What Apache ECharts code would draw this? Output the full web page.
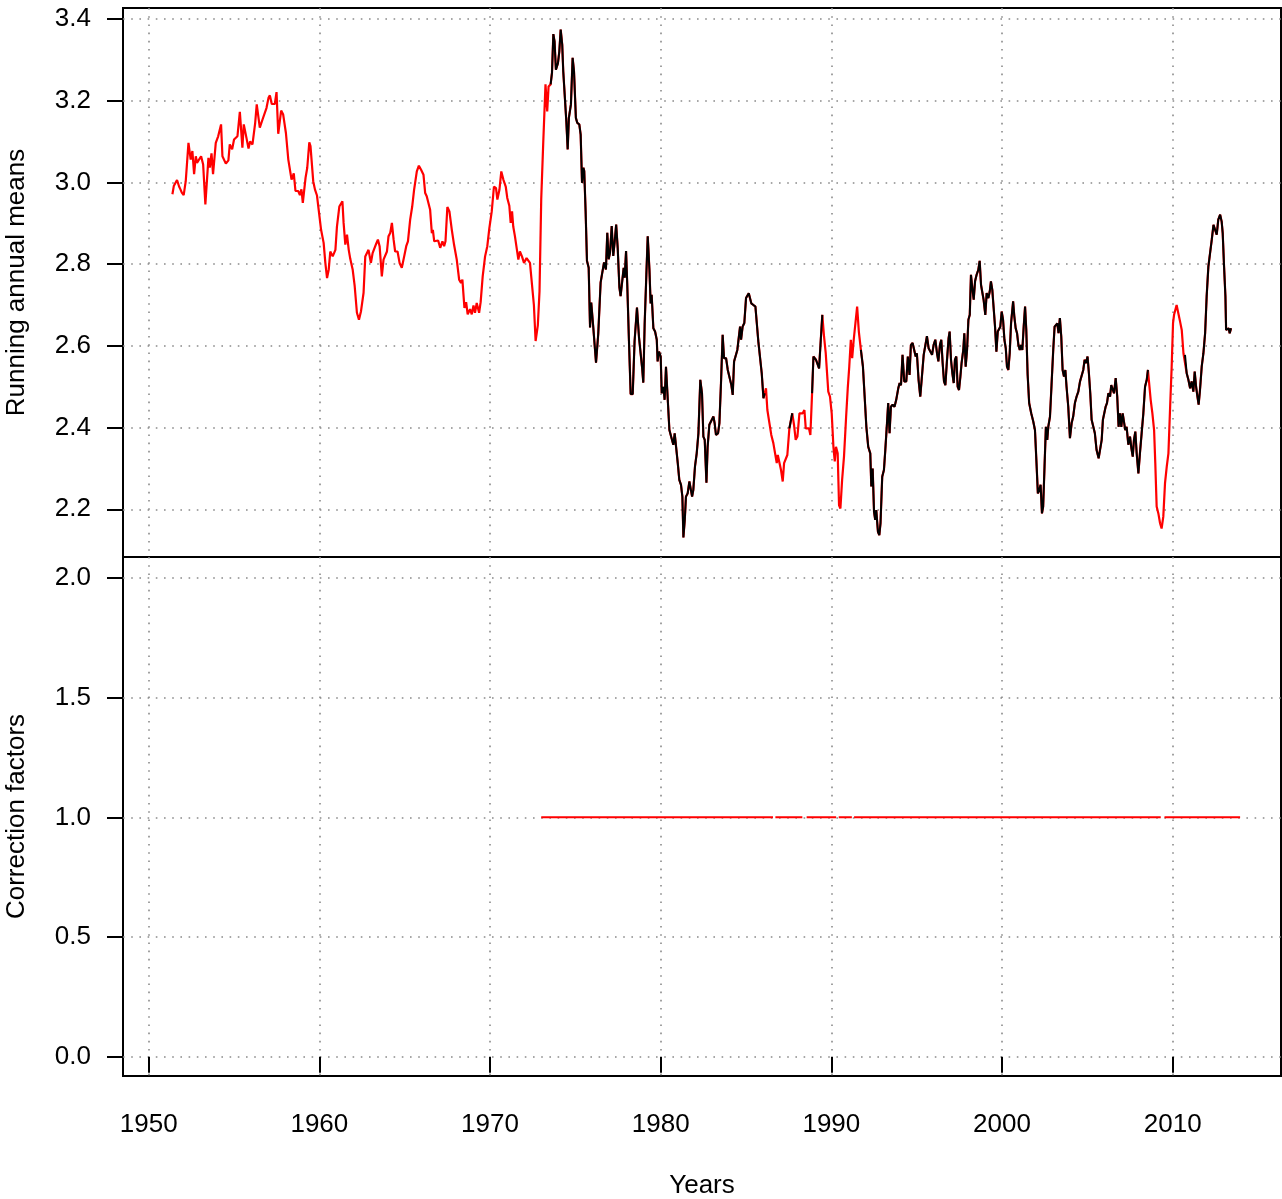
<!DOCTYPE html>
<html>
<head>
<meta charset="utf-8">
<script src="https://cdn.jsdelivr.net/npm/echarts@6/dist/echarts.min.js"></script>
<style>
html, body { margin: 0; padding: 0; background: #fff; }
#chart { width: 1282px; height: 1199px; }
</style>
</head>
<body>
<div id="chart"></div>
<script>
// running annual means (decimal years)
var years = [
  1951.39, 1951.47, 1951.66, 1951.78, 1951.86, 1951.94, 1952.05, 1952.17, 1952.33, 1952.46,
  1952.56, 1952.66, 1952.76, 1952.83, 1953.07, 1953.19, 1953.32, 1953.5, 1953.58, 1953.68,
  1953.77, 1953.93, 1954.07, 1954.24, 1954.32, 1954.52, 1954.67, 1954.75, 1954.89, 1955.0,
  1955.2, 1955.34, 1955.49, 1955.57, 1955.69, 1955.85, 1955.94, 1956.08, 1956.24, 1956.33,
  1956.51, 1956.67, 1956.9, 1957.02, 1957.1, 1957.21, 1957.39, 1957.49, 1957.59, 1957.76,
  1957.88, 1958.04, 1958.18, 1958.27, 1958.37, 1958.5, 1958.6, 1958.76, 1958.86, 1958.95,
  1959.03, 1959.19, 1959.29, 1959.41, 1959.48, 1959.64, 1959.74, 1959.86, 1959.96, 1960.1,
  1960.25, 1960.35, 1960.45, 1960.55, 1960.64, 1960.78, 1960.94, 1961.03, 1961.17, 1961.27,
  1961.35, 1961.42, 1961.52, 1961.62, 1961.72, 1961.81, 1961.95, 1962.07, 1962.2, 1962.32,
  1962.44, 1962.59, 1962.69, 1962.79, 1962.88, 1963.02, 1963.12, 1963.22, 1963.33, 1963.43,
  1963.53, 1963.66, 1963.76, 1963.86, 1963.96, 1964.05, 1964.15, 1964.25, 1964.35, 1964.44,
  1964.58, 1964.7, 1964.83, 1964.97, 1965.09, 1965.19, 1965.32, 1965.44, 1965.55, 1965.71,
  1965.83, 1965.96, 1966.1, 1966.2, 1966.29, 1966.37, 1966.49, 1966.59, 1966.65, 1966.73,
  1966.84, 1966.96, 1967.08, 1967.21, 1967.31, 1967.39, 1967.5, 1967.62, 1967.76, 1967.89,
  1968.05, 1968.19, 1968.3, 1968.38, 1968.5, 1968.6, 1968.69, 1968.83, 1968.93, 1969.03,
  1969.12, 1969.22, 1969.36, 1969.45, 1969.57, 1969.71, 1969.84, 1969.96, 1970.1, 1970.23,
  1970.35, 1970.43, 1970.55, 1970.66, 1970.78, 1970.92, 1971.01, 1971.13, 1971.21, 1971.29,
  1971.36, 1971.46, 1971.56, 1971.66, 1971.75, 1971.87, 1971.99, 1972.14, 1972.24, 1972.34,
  1972.45, 1972.57, 1972.67, 1972.74, 1972.8, 1972.9, 1973.0, 1973.12, 1973.25, 1973.35,
  1973.43, 1973.55, 1973.63, 1973.71, 1973.78, 1973.86, 1973.98, 1974.06, 1974.14, 1974.23,
  1974.29, 1974.36, 1974.47, 1974.55, 1974.62, 1974.74, 1974.84, 1974.92, 1975.03, 1975.11,
  1975.23, 1975.31, 1975.39, 1975.47, 1975.52, 1975.6, 1975.68, 1975.78, 1975.86, 1975.93,
  1976.05, 1976.21, 1976.34, 1976.48, 1976.56, 1976.68, 1976.79, 1976.87, 1976.95, 1977.03,
  1977.13, 1977.22, 1977.3, 1977.39, 1977.48, 1977.58, 1977.65, 1977.75, 1977.83, 1977.89,
  1977.97, 1978.04, 1978.14, 1978.24, 1978.36, 1978.47, 1978.61, 1978.73, 1978.81, 1978.91,
  1978.98, 1979.06, 1979.16, 1979.24, 1979.34, 1979.41, 1979.47, 1979.57, 1979.67, 1979.77,
  1979.82, 1979.9, 1980.0, 1980.06, 1980.16, 1980.23, 1980.31, 1980.39, 1980.51, 1980.61,
  1980.7, 1980.74, 1980.82, 1980.9, 1981.0, 1981.09, 1981.19, 1981.27, 1981.33, 1981.41,
  1981.48, 1981.58, 1981.68, 1981.76, 1981.84, 1981.91, 1982.01, 1982.11, 1982.21, 1982.32,
  1982.42, 1982.5, 1982.58, 1982.68, 1982.75, 1982.85, 1982.95, 1983.09, 1983.16, 1983.24,
  1983.36, 1983.44, 1983.54, 1983.63, 1983.71, 1983.83, 1983.93, 1984.02, 1984.14, 1984.22,
  1984.3, 1984.41, 1984.49, 1984.57, 1984.65, 1984.71, 1984.8, 1984.9, 1985.0, 1985.08,
  1985.16, 1985.23, 1985.31, 1985.43, 1985.55, 1985.63, 1985.72, 1985.82, 1985.92, 1986.02,
  1986.09, 1986.17, 1986.25, 1986.37, 1986.48, 1986.6, 1986.7, 1986.8, 1986.86, 1986.95,
  1987.05, 1987.15, 1987.23, 1987.32, 1987.42, 1987.54, 1987.62, 1987.71, 1987.81, 1987.91,
  1988.01, 1988.13, 1988.22, 1988.32, 1988.42, 1988.5, 1988.59, 1988.69, 1988.77, 1988.87,
  1988.95, 1989.02, 1989.1, 1989.2, 1989.28, 1989.38, 1989.47, 1989.57, 1989.67, 1989.75,
  1989.82, 1989.92, 1990.02, 1990.12, 1990.2, 1990.27, 1990.37, 1990.45, 1990.53, 1990.63,
  1990.74, 1990.86, 1990.96, 1991.05, 1991.14, 1991.22, 1991.31, 1991.4, 1991.51, 1991.61,
  1991.73, 1991.85, 1991.95, 1992.05, 1992.16, 1992.28, 1992.34, 1992.42, 1992.5, 1992.57,
  1992.63, 1992.73, 1992.81, 1992.88, 1992.98, 1993.08, 1993.16, 1993.26, 1993.33, 1993.41,
  1993.49, 1993.59, 1993.7, 1993.8, 1993.92, 1994.0, 1994.08, 1994.17, 1994.27, 1994.39,
  1994.48, 1994.58, 1994.66, 1994.76, 1994.86, 1994.94, 1995.01, 1995.11, 1995.21, 1995.31,
  1995.41, 1995.51, 1995.6, 1995.7, 1995.8, 1995.9, 1995.99, 1996.09, 1996.19, 1996.27,
  1996.36, 1996.44, 1996.52, 1996.6, 1996.68, 1996.77, 1996.87, 1996.93, 1997.01, 1997.09,
  1997.17, 1997.24, 1997.32, 1997.4, 1997.48, 1997.56, 1997.63, 1997.73, 1997.79, 1997.87,
  1997.95, 1998.03, 1998.11, 1998.18, 1998.26, 1998.34, 1998.42, 1998.51, 1998.61, 1998.69,
  1998.77, 1998.85, 1998.92, 1999.02, 1999.1, 1999.2, 1999.28, 1999.35, 1999.43, 1999.51,
  1999.59, 1999.67, 1999.75, 1999.82, 1999.9, 1999.98, 2000.06, 2000.14, 2000.22, 2000.29,
  2000.37, 2000.45, 2000.53, 2000.65, 2000.72, 2000.8, 2000.88, 2000.96, 2001.04, 2001.11,
  2001.19, 2001.27, 2001.35, 2001.42, 2001.5, 2001.59, 2001.71, 2001.83, 2001.93, 2002.02,
  2002.1, 2002.18, 2002.26, 2002.34, 2002.41, 2002.49, 2002.57, 2002.65, 2002.71, 2002.81,
  2002.9, 2003.0, 2003.08, 2003.16, 2003.24, 2003.31, 2003.39, 2003.47, 2003.55, 2003.63,
  2003.71, 2003.78, 2003.88, 2003.98, 2004.08, 2004.17, 2004.27, 2004.37, 2004.47, 2004.57,
  2004.68, 2004.76, 2004.84, 2004.92, 2005.01, 2005.09, 2005.17, 2005.25, 2005.35, 2005.44,
  2005.54, 2005.66, 2005.74, 2005.84, 2005.91, 2005.99, 2006.07, 2006.15, 2006.23, 2006.33,
  2006.4, 2006.48, 2006.56, 2006.66, 2006.75, 2006.83, 2006.91, 2006.99, 2007.07, 2007.15,
  2007.22, 2007.3, 2007.4, 2007.5, 2007.58, 2007.66, 2007.73, 2007.81, 2007.89, 2007.99,
  2008.08, 2008.18, 2008.28, 2008.38, 2008.48, 2008.55, 2008.61, 2008.71, 2008.81, 2008.91,
  2008.98, 2009.06, 2009.16, 2009.26, 2009.35, 2009.45, 2009.55, 2009.65, 2009.75, 2009.85,
  2009.94, 2010.02, 2010.08, 2010.16, 2010.23, 2010.33, 2010.43, 2010.53, 2010.63, 2010.72,
  2010.82, 2010.92, 2011.02, 2011.11, 2011.21, 2011.29, 2011.37, 2011.45, 2011.52, 2011.6,
  2011.7, 2011.8, 2011.9, 2011.99, 2012.09, 2012.19, 2012.29, 2012.39, 2012.48, 2012.58,
  2012.67, 2012.78, 2012.87, 2012.93, 2013.01, 2013.09, 2013.13, 2013.21, 2013.28, 2013.34,
  2013.42
];
var means = [
  2.971, 2.991, 3.006, 2.990, 2.983, 2.975, 2.969, 3.003, 3.097, 3.056,
  3.077, 3.020, 3.064, 3.048, 3.064, 3.044, 2.946, 3.060, 3.036, 3.071,
  3.020, 3.097, 3.113, 3.142, 3.064, 3.046, 3.054, 3.093, 3.081, 3.105,
  3.113, 3.173, 3.085, 3.142, 3.117, 3.083, 3.100, 3.093, 3.146, 3.191,
  3.134, 3.154, 3.182, 3.207, 3.213, 3.192, 3.192, 3.221, 3.119, 3.176,
  3.166, 3.121, 3.056, 3.052, 3.007, 3.022, 2.979, 2.979, 2.969, 2.983,
  2.950, 3.011, 3.036, 3.098, 3.089, 3.003, 2.983, 2.968, 2.933, 2.884,
  2.852, 2.803, 2.766, 2.787, 2.831, 2.819, 2.835, 2.892, 2.941, 2.943,
  2.954, 2.901, 2.848, 2.872, 2.835, 2.813, 2.787, 2.746, 2.681, 2.664,
  2.685, 2.730, 2.819, 2.823, 2.835, 2.803, 2.827, 2.823, 2.850, 2.860,
  2.844, 2.770, 2.811, 2.815, 2.831, 2.868, 2.876, 2.901, 2.860, 2.831,
  2.831, 2.803, 2.791, 2.819, 2.844, 2.856, 2.909, 2.941, 2.982, 3.027,
  3.041, 3.031, 3.019, 2.974, 2.966, 2.970, 2.933, 2.876, 2.884, 2.856,
  2.860, 2.858, 2.840, 2.856, 2.844, 2.856, 2.940, 2.929, 2.884, 2.848,
  2.811, 2.762, 2.754, 2.762, 2.693, 2.707, 2.677, 2.690, 2.677, 2.699,
  2.681, 2.705, 2.681, 2.707, 2.770, 2.819, 2.844, 2.888, 2.929, 2.990,
  2.986, 2.958, 2.982, 3.027, 3.007, 2.990, 2.962, 2.943, 2.901, 2.929,
  2.892, 2.868, 2.872, 2.811, 2.831, 2.819, 2.803, 2.815, 2.819, 2.803,
  2.800, 2.700, 2.612, 2.610, 2.650, 2.734, 2.960, 3.100, 3.240, 3.174,
  3.235, 3.240, 3.268, 3.363, 3.345, 3.276, 3.292, 3.321, 3.374, 3.337,
  3.272, 3.276, 3.150, 3.081, 3.158, 3.191, 3.305, 3.272, 3.158, 3.146,
  3.142, 3.117, 2.999, 3.036, 3.028, 2.930, 2.808, 2.791, 2.645, 2.706,
  2.645, 2.559, 2.629, 2.755, 2.775, 2.804, 2.787, 2.877, 2.812, 2.828,
  2.893, 2.820, 2.853, 2.897, 2.840, 2.743, 2.722, 2.726, 2.791, 2.767,
  2.832, 2.751, 2.612, 2.482, 2.482, 2.612, 2.694, 2.620, 2.620, 2.547,
  2.510, 2.653, 2.775, 2.868, 2.786, 2.704, 2.725, 2.643, 2.635, 2.615,
  2.562, 2.586, 2.574, 2.484, 2.500, 2.468, 2.549, 2.545, 2.394, 2.378,
  2.382, 2.358, 2.386, 2.382, 2.313, 2.272, 2.260, 2.231, 2.131, 2.174,
  2.231, 2.239, 2.268, 2.264, 2.231, 2.247, 2.305, 2.337, 2.386, 2.517,
  2.484, 2.378, 2.370, 2.265, 2.353, 2.407, 2.411, 2.427, 2.411, 2.382,
  2.386, 2.411, 2.517, 2.627, 2.570, 2.570, 2.541, 2.537, 2.504, 2.480,
  2.562, 2.566, 2.590, 2.586, 2.647, 2.615, 2.647, 2.656, 2.717, 2.721,
  2.729, 2.733, 2.704, 2.700, 2.696, 2.656, 2.611, 2.607, 2.533, 2.472,
  2.484, 2.496, 2.443, 2.411, 2.382, 2.362, 2.358, 2.313, 2.333, 2.337,
  2.296, 2.268, 2.313, 2.317, 2.333, 2.398, 2.398, 2.435, 2.407, 2.370,
  2.378, 2.435, 2.435, 2.435, 2.443, 2.398, 2.398, 2.398, 2.382, 2.484,
  2.574, 2.578, 2.566, 2.562, 2.545, 2.615, 2.676, 2.623, 2.582, 2.578,
  2.488, 2.476, 2.435, 2.353, 2.317, 2.353, 2.337, 2.210, 2.202, 2.272,
  2.329, 2.423, 2.496, 2.550, 2.615, 2.570, 2.615, 2.619, 2.696, 2.635,
  2.590, 2.549, 2.476, 2.402, 2.353, 2.337, 2.256, 2.300, 2.194, 2.174,
  2.198, 2.145, 2.137, 2.166, 2.280, 2.296, 2.345, 2.411, 2.460, 2.386,
  2.451, 2.456, 2.451, 2.468, 2.496, 2.509, 2.504, 2.578, 2.513, 2.513,
  2.574, 2.529, 2.602, 2.607, 2.607, 2.574, 2.582, 2.517, 2.476, 2.480,
  2.578, 2.578, 2.624, 2.594, 2.592, 2.578, 2.602, 2.615, 2.582, 2.562,
  2.602, 2.615, 2.558, 2.513, 2.504, 2.562, 2.619, 2.635, 2.566, 2.533,
  2.509, 2.566, 2.574, 2.500, 2.492, 2.525, 2.558, 2.590, 2.631, 2.549,
  2.590, 2.664, 2.676, 2.774, 2.741, 2.713, 2.758, 2.774, 2.786, 2.808,
  2.749, 2.745, 2.713, 2.676, 2.729, 2.717, 2.733, 2.758, 2.737, 2.692,
  2.647, 2.586, 2.635, 2.639, 2.647, 2.684, 2.664, 2.615, 2.594, 2.549,
  2.541, 2.582, 2.656, 2.709, 2.672, 2.643, 2.631, 2.602, 2.590, 2.602,
  2.590, 2.647, 2.696, 2.640, 2.530, 2.460, 2.435, 2.415, 2.394, 2.313,
  2.239, 2.247, 2.260, 2.190, 2.207, 2.304, 2.402, 2.370, 2.402, 2.427,
  2.504, 2.590, 2.647, 2.651, 2.655, 2.631, 2.668, 2.623, 2.541, 2.525,
  2.541, 2.500, 2.451, 2.374, 2.411, 2.427, 2.460, 2.476, 2.488, 2.513,
  2.517, 2.541, 2.566, 2.558, 2.574, 2.533, 2.484, 2.419, 2.415, 2.386,
  2.345, 2.325, 2.329, 2.370, 2.419, 2.415, 2.451, 2.460, 2.484, 2.476,
  2.504, 2.500, 2.484, 2.521, 2.476, 2.402, 2.435, 2.402, 2.435, 2.439,
  2.394, 2.402, 2.358, 2.378, 2.349, 2.329, 2.370, 2.390, 2.337, 2.288,
  2.337, 2.386, 2.435, 2.500, 2.517, 2.541, 2.513, 2.468, 2.435, 2.394,
  2.313, 2.207, 2.190, 2.166, 2.153, 2.182, 2.264, 2.304, 2.337, 2.451,
  2.549, 2.656, 2.676, 2.680, 2.700, 2.680, 2.660, 2.639, 2.582, 2.578,
  2.533, 2.517, 2.496, 2.513, 2.488, 2.537, 2.500, 2.476, 2.456, 2.492,
  2.549, 2.582, 2.631, 2.721, 2.794, 2.827, 2.860, 2.896, 2.892, 2.872,
  2.909, 2.921, 2.904, 2.876, 2.794, 2.721, 2.639, 2.635, 2.643, 2.631,
  2.643
];
// stretches where only the red (uncorrected) curve shows, no black curve
var blackGaps = [[1900, 1973.5], [1986.12, 1987.5], [1987.75, 1988.84], [1989.55, 1991.7], [2008.58, 2010.66]];

// correction factors: constant 1.0, drawn in pieces with short gaps
var corrValue = 1.0;
var corrSegments = [[1973.0, 1986.58], [1986.72, 1988.3], [1988.55, 1990.28], [1990.43, 1991.2], [1991.33, 2009.3], [2009.52, 2013.95]];

var xTicks = [1950, 1960, 1970, 1980, 1990, 2000, 2010];
var topTicks = [2.2, 2.4, 2.6, 2.8, 3.0, 3.2, 3.4];
var bottomTicks = [0.0, 0.5, 1.0, 1.5, 2.0];

var FONT = '"Liberation Sans", Arial, Helvetica, sans-serif';
var chart = echarts.init(document.getElementById('chart'), null, {renderer: 'canvas'});

function inGap(yr) {
    for (var k = 0; k < blackGaps.length; k++) {
        if (yr > blackGaps[k][0] && yr < blackGaps[k][1]) return true;
    }
    return false;
}

var redData = [], blackData = [];
for (var i = 0; i < years.length; i++) {
    redData.push([years[i], means[i]]);
    blackData.push([years[i], inGap(years[i]) ? '-' : means[i]]);
}
var corrData = [];
corrSegments.forEach(function (s) {
    corrData.push([s[0], corrValue], [s[1], corrValue], [s[1], '-']);
});

var gridLine = {show: true, lineStyle: {color: '#8a8a8a', width: 1.6, type: [1.6, 6.6]}};
var textStyle = {color: '#000', fontSize: 26, fontFamily: FONT};

function xAxisFor(idx, bottom) {
    return {
        type: 'value', gridIndex: idx, min: 1948.494, max: 2016.346,
        axisLine: {show: false},
        axisTick: {show: bottom, customValues: xTicks, length: 16, lineStyle: {color: '#000', width: 2}},
        axisLabel: Object.assign({show: bottom, customValues: xTicks, margin: 36,
            formatter: function (v) { return String(v); }}, textStyle),
        splitLine: gridLine,
        name: bottom ? 'Years' : '', nameLocation: 'middle', nameGap: 97,
        nameTextStyle: textStyle
    };
}

function yAxisFor(idx, lo, hi, ticks, title) {
    return {
        type: 'value', gridIndex: idx, min: lo, max: hi,
        axisLine: {show: false},
        axisTick: {show: true, customValues: ticks, length: 16, lineStyle: {color: '#000', width: 2}},
        axisLabel: Object.assign({customValues: ticks, margin: 32,
            formatter: function (v) { return v.toFixed(1); }}, textStyle),
        splitLine: gridLine,
        name: title, nameLocation: 'middle', nameGap: 93,
        nameTextStyle: textStyle
    };
}

var panel = {left: 123, width: 1158, show: true, borderColor: '#000', borderWidth: 2,
    backgroundColor: 'transparent', containLabel: false, outerBoundsMode: 'none'};

option = {
    animation: false,
    backgroundColor: '#fff',
    grid: [
        Object.assign({top: 8, height: 549}, panel),
        Object.assign({top: 557, height: 519}, panel)
    ],
    xAxis: [xAxisFor(0, false), xAxisFor(1, true)],
    yAxis: [
        yAxisFor(0, 2.0833, 3.4269, topTicks, 'Running annual means'),
        yAxisFor(1, -0.0806, 2.0877, bottomTicks, 'Correction factors')
    ],
    series: [
        {
            type: 'line', xAxisIndex: 0, yAxisIndex: 0, data: redData,
            symbol: 'none', lineStyle: {color: '#ff0000', width: 2.2}, z: 2
        },
        {
            type: 'line', xAxisIndex: 0, yAxisIndex: 0, data: blackData,
            symbol: 'none', connectNulls: false, lineStyle: {color: '#000000', width: 2}, z: 3
        },
        {
            type: 'line', xAxisIndex: 1, yAxisIndex: 1, data: corrData,
            symbol: 'none', connectNulls: false, lineStyle: {color: '#ff0000', width: 2, cap: 'butt'}, z: 2
        }
    ]
};

chart.setOption(option);
</script>
</body>
</html>
